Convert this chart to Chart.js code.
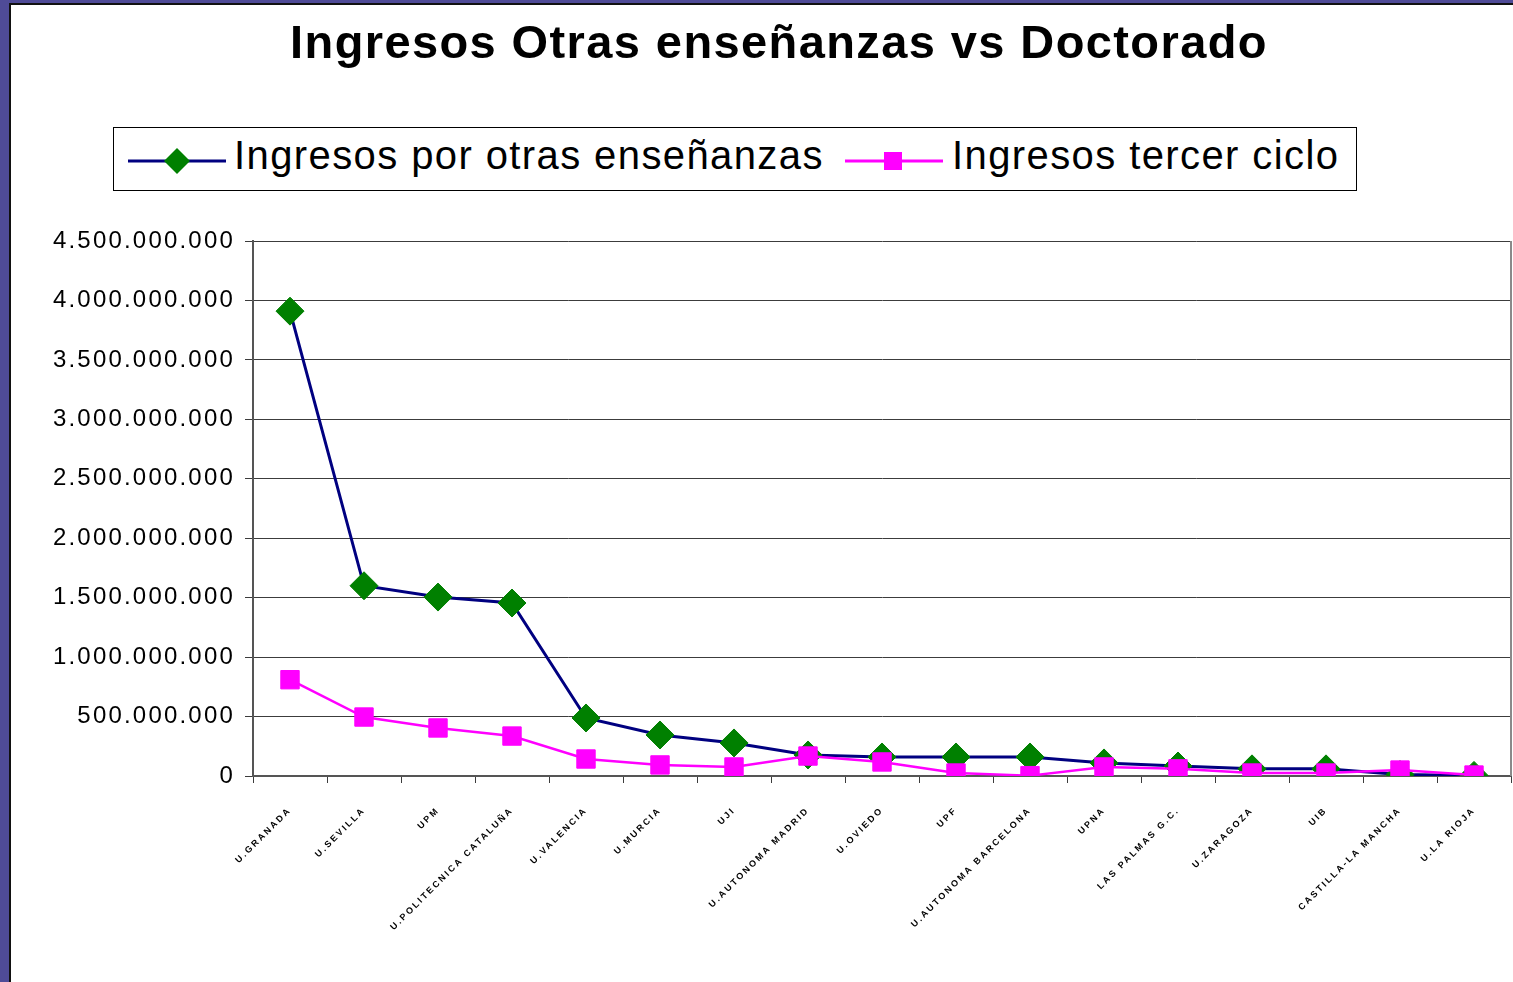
<!DOCTYPE html>
<html>
<head>
<meta charset="utf-8">
<script src="https://cdn.jsdelivr.net/npm/chart.js@4"></script>
<style>
  html, body { margin: 0; padding: 0; background: #fff; overflow: hidden; }
  body { width: 1513px; height: 982px; position: relative; font-family: 'Liberation Sans', Arial, sans-serif; }
  #wrap { position: absolute; left: 0; top: 0; width: 1513px; height: 982px; }
  #frame-purple { position: absolute; left: 0; top: 0; width: 1513px; height: 982px; box-sizing: border-box;
    border-left: 9px solid #4f4b97; border-top: 3px solid #4f4b97; pointer-events: none; }
  #frame-black { position: absolute; left: 9px; top: 3px; width: 1504px; height: 979px; box-sizing: border-box;
    border-left: 2px solid #111; border-top: 2px solid #111; pointer-events: none; }
  #title { position: absolute; left: 45px; width: 1468px; top: 14px; text-align: center;
    font-weight: bold; font-size: 47px; letter-spacing: 1.4px; color: #000; white-space: nowrap; }
  #legend { position: absolute; left: 113px; top: 127px; width: 1244px; height: 64px; box-sizing: border-box;
    border: 1px solid #000; background: #fff; }
  .lg-icon { position: absolute; top: 0; }
  .lg-text { position: absolute; top: 5px; font-size: 40px; letter-spacing: 1.4px; color: #000; white-space: nowrap; }
</style>
</head>
<body>
<div id="wrap"><canvas id="chart"></canvas></div>
<div id="title">Ingresos Otras enseñanzas vs Doctorado</div>
<div id="legend">
  <svg class="lg-icon" style="left:14px" width="100" height="64">
    <line x1="0" y1="33" x2="98" y2="33" stroke="#000080" stroke-width="3"/>
    <polygon points="49,20 62,33 49,46 36,33" fill="#008000"/>
  </svg>
  <span class="lg-text" style="left:120px">Ingresos por otras enseñanzas</span>
  <svg class="lg-icon" style="left:731px" width="100" height="64">
    <line x1="0" y1="33" x2="98" y2="33" stroke="#ff00ff" stroke-width="3"/>
    <rect x="39" y="24" width="18" height="18" fill="#ff00ff"/>
  </svg>
  <span class="lg-text" style="left:838px">Ingresos tercer ciclo</span>
</div>
<div id="frame-purple"></div>
<div id="frame-black"></div>

<script>
// -- data ----------------------------------------------------------------

const universidades = [
  'U.GRANADA', 'U.SEVILLA', 'UPM', 'U.POLITECNICA CATALUÑA', 'U.VALENCIA',
  'U.MURCIA', 'UJI', 'U.AUTONOMA MADRID', 'U.OVIEDO', 'UPF',
  'U.AUTONOMA BARCELONA', 'UPNA', 'LAS PALMAS G.C.', 'U.ZARAGOZA', 'UIB',
  'CASTILLA-LA MANCHA', 'U.LA RIOJA'
];

const otrasEnsenanzas = [
  3910000000, 1600000000, 1505000000, 1455000000, 488000000,
  345000000, 278000000, 177000000, 160000000, 160000000,
  160000000, 110000000, 84000000, 60000000, 60000000,
  12000000, 5000000
];

const tercerCiclo = [
  810000000, 496000000, 404000000, 336000000, 143000000,
  93000000, 76000000, 168000000, 118000000, 25000000,
  3000000, 76000000, 60000000, 25000000, 25000000,
  50000000, 8000000
];

const yMax = 4500000000;
const yStep = 500000000;

// -- helpers -------------------------------------------------------------

function miles(v) {
  return String(v).replace(/\B(?=(\d{3})+(?!\d))/g, '.');
}

const FONT = "'Liberation Sans', Arial, sans-serif";
const GRID = '#3c3c3c';

// canvas letter spacing to mimic the stretched source
const spacingPlugin = {
  id: 'spacing',
  beforeDraw(chart) { chart.ctx.letterSpacing = '2.2px'; },
  afterDraw(chart) {
    const ctx = chart.ctx;
    ctx.letterSpacing = '0px';
    // right edge of plot area
    const a = chart.chartArea;
    ctx.save();
    ctx.strokeStyle = '#8a8a8a';
    ctx.lineWidth = 2;
    ctx.beginPath();
    ctx.moveTo(a.right, a.top);
    ctx.lineTo(a.right, a.bottom);
    ctx.stroke();
    ctx.restore();
  },
};

new Chart(document.getElementById('chart'), {
  type: 'line',
  data: {
    labels: universidades,
    datasets: [
      {
        label: 'Ingresos por otras enseñanzas',
        data: otrasEnsenanzas,
        borderColor: '#000080',
        borderWidth: 3,
        pointStyle: 'rectRot',
        pointRadius: 14,
        pointBackgroundColor: '#008000',
        pointBorderColor: '#008000',
        pointBorderWidth: 1,
        tension: 0,
        order: 1,
      },
      {
        label: 'Ingresos tercer ciclo',
        data: tercerCiclo,
        borderColor: '#ff00ff',
        borderWidth: 2.5,
        pointStyle: 'rect',
        pointRadius: 13,
        pointBackgroundColor: '#ff00ff',
        pointBorderColor: '#ff00ff',
        pointBorderWidth: 1,
        tension: 0,
        order: 0,
      },
    ],
  },
  options: {
    responsive: true,
    maintainAspectRatio: false,
    animation: false,
    events: [],
    layout: { autoPadding: false, padding: { top: 241, right: 2, left: 0, bottom: 0 } },
    plugins: {
      legend: { display: false },
      title: { display: false },
      tooltip: { enabled: false },
    },
    scales: {
      x: {
        offset: true,
        afterFit(scale) {
          scale.height = 206;
          scale.paddingLeft = 0;
          scale.paddingRight = 0;
        },
        grid: {
          offset: true,
          drawOnChartArea: false,
          drawTicks: true,
          tickLength: 7,
          color: GRID,
        },
        border: { color: '#555', width: 2 },
        ticks: {
          autoSkip: false,
          minRotation: 45,
          maxRotation: 45,
          padding: 22,
          color: '#000',
          font: { family: FONT, size: 9, weight: 'bold' },
        },
      },
      y: {
        min: 0,
        max: yMax,
        afterFit(scale) {
          scale.width = 253;
          scale.paddingTop = 0;
          scale.paddingBottom = 0;
        },
        grid: { color: GRID, lineWidth: 1, tickLength: 8 },
        border: { color: '#555', width: 2 },
        ticks: {
          stepSize: yStep,
          padding: 10,
          color: '#000',
          font: { family: FONT, size: 24 },
          callback: v => miles(v),
        },
      },
    },
  },
  plugins: [spacingPlugin],
});
</script>
</body>
</html>
